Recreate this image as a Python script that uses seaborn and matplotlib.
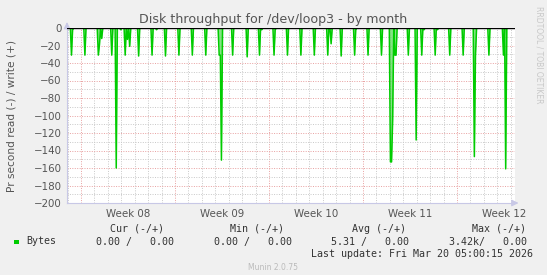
import numpy as np
import pandas as pd
import matplotlib
matplotlib.use("Agg")
import matplotlib.pyplot as plt
import seaborn as sns
from matplotlib.ticker import MultipleLocator, FixedLocator, NullFormatter
from matplotlib.patches import Rectangle

# ---------------- data ----------------
title = "Disk throughput for /dev/loop3 - by month"
ylabel = "Pr second read (-) / write (+)"
week_labels = ["Week 08", "Week 09", "Week 10", "Week 11", "Week 12"]
week_starts = [1.04, 8.04, 15.04, 22.04, 29.04]   # days from left edge (Mondays)
span_days = 33.36
step_days = 1 / 12                                   # 2-hour consolidated points

spike_day = [0.30, 0.45, 1.32, 2.31, 2.45, 2.58, 3.32, 3.65, 4.02, 4.32, 4.47, 4.65,
             5.36, 6.37, 6.70, 7.37, 8.36, 9.36, 10.35, 11.34, 11.43, 11.52, 12.36,
             13.38, 14.37, 14.52, 15.38, 15.52, 16.38, 17.39, 18.39, 19.40, 19.68,
             20.40, 21.41, 21.52, 22.41, 23.42, 24.09, 24.17, 24.26, 24.42, 24.50,
             25.39, 25.96, 26.43, 26.55, 27.45, 27.55, 28.47, 29.46, 30.31, 30.45,
             31.44, 32.46, 32.66]
spike_val = [-31, -2, -31, -31, -19, -12, -31, -160, -2, -31, -13, -21,
             -32, -31, -2, -32, -31, -31, -31, -31, -31, -151, -31,
             -33, -31, -2, -31, -2, -31, -31, -31, -31, -18,
             -32, -31, -2, -31, -31, -153, -153, -105, -31, -31,
             -31, -128, -31, -2, -31, -2, -31, -31, -147, -31,
             -31, -31, -161]

legend_headers = ["Cur (-/+)", "Min (-/+)", "Avg (-/+)", "Max (-/+)"]
legend_values = ["0.00 /   0.00", "0.00 /   0.00", "5.31 /   0.00", "3.42k/   0.00"]
series_name = "Bytes"
last_update = "Last update: Fri Mar 20 05:00:15 2026"
footer = "Munin 2.0.75"
watermark = "RRDTOOL / TOBI OETIKER"

# build consolidated series
n = int(np.ceil(span_days / step_days)) + 1
days = np.arange(n) * step_days
read = np.zeros(n)
for d, v in zip(spike_day, spike_val):
    read[int(round(d / step_days))] = v
write = np.zeros(n)
df = pd.DataFrame({"day": days, "read": read, "write": write})

# ---------------- style ----------------
sns.set_theme(style="white")
plt.rcParams["font.family"] = ["DejaVu Sans"]
BG = "#f0f0f0"
TXT = "#555555"
GREEN = "#00cc00"
AXC = "#c8c8e6"

fig = plt.figure(figsize=(5.47, 2.75), dpi=100, facecolor=BG)
W, H = 547, 275
ax = fig.add_axes([67 / W, 1 - 203 / H, (515 - 67) / W, (203 - 28) / H])
ax.set_facecolor("white")

# grid
ax.set_xlim(0, span_days)
ax.set_ylim(-200, 0)
ax.yaxis.set_major_locator(MultipleLocator(20))
ax.yaxis.set_minor_locator(MultipleLocator(10))
ax.xaxis.set_major_locator(FixedLocator(week_starts))
daily = [week_starts[0] - 1 + k for k in range(int(span_days) + 2)]
ax.xaxis.set_minor_locator(FixedLocator([d for d in daily if 0 < d < span_days]))
ax.xaxis.set_major_formatter(NullFormatter())
dot = (0, (1, 1.5))
ax.grid(which="major", axis="both", color="#e8a0a0", linestyle=dot, linewidth=0.7)
ax.grid(which="minor", axis="both", color="#c8c8c8", linestyle=dot, linewidth=0.7)
ax.set_axisbelow(True)

# data
ax.fill_between(df["day"], df["read"], 0, color="#66dd66", alpha=0.8, linewidth=0, zorder=2)
sns.lineplot(data=df, x="day", y="read", color=GREEN, linewidth=1.1, ax=ax, zorder=3)
sns.lineplot(data=df, x="day", y="write", color="black", linewidth=1.0, ax=ax, zorder=4)

ax.set_xlabel("")
ax.set_ylabel(ylabel, fontsize=7.6, color=TXT, labelpad=12)
for s in ["top", "right"]:
    ax.spines[s].set_visible(False)
for s in ["left", "bottom"]:
    ax.spines[s].set_color(AXC)
    ax.spines[s].set_linewidth(0.8)

ax.tick_params(axis="y", which="major", labelsize=7.4, labelcolor=TXT, length=2,
               color="#e8a0a0", direction="inout", pad=3)
ax.tick_params(axis="y", which="minor", length=2, color="#c8c8c8", direction="inout")
ax.tick_params(axis="x", which="major", length=3, color="#e08080", direction="inout")
ax.tick_params(axis="x", which="minor", length=2, color="#c0c0c0", direction="inout")

sec = ax.secondary_xaxis("bottom")
sec.set_xticks([w + 3.5 for w in week_starts], week_labels)
sec.tick_params(length=0, labelsize=7.4, labelcolor=TXT, pad=4)
sec.spines["bottom"].set_visible(False)

# axis arrows
ax.annotate("", xy=(0, 1.05), xytext=(0, 0.985), xycoords="axes fraction",
            arrowprops=dict(arrowstyle="-|>,head_length=0.5,head_width=0.25",
                            color=AXC, lw=0.8, mutation_scale=8),
            annotation_clip=False)
ax.annotate("", xy=(1.014, 0), xytext=(0.99, 0), xycoords="axes fraction",
            arrowprops=dict(arrowstyle="-|>,head_length=0.5,head_width=0.25",
                            color=AXC, lw=0.8, mutation_scale=8),
            annotation_clip=False)

# title & texts
fig.text(273 / W, 1 - 19 / H, title, ha="center", va="center", fontsize=9.1, color=TXT)
fig.text(539 / W, 1 - 6 / H, watermark, ha="center", va="top", rotation=270,
         fontsize=5.5, color="#c8c8c8")

mono = "DejaVu Sans Mono"
hdr_right = [164, 284.5, 405.5, 526]
val_right = [173.5, 291.5, 409, 527]
for t, xr in zip(legend_headers, hdr_right):
    fig.text(xr / W, 1 - 228.6 / H, t, ha="right", va="center", family=mono,
             fontsize=7.2, color="#333333")
for t, xr in zip(legend_values, val_right):
    fig.text(xr / W, 1 - 241.5 / H, t, ha="right", va="center", family=mono,
             fontsize=7.2, color="#333333")
fig.patches.append(Rectangle((14 / W, 1 - 244 / H), 4.5 / W, 4.5 / H,
                             transform=fig.transFigure, facecolor=GREEN,
                             edgecolor="none"))
fig.text(26 / W, 1 - 241.5 / H, series_name, ha="left", va="center", family=mono,
         fontsize=7.2, color="#333333")
fig.text(533 / W, 1 - 254 / H, last_update, ha="right", va="center", family=mono,
         fontsize=7.2, color="#333333")
fig.text(273 / W, 1 - 267 / H, footer, ha="center", va="center", fontsize=5.5,
         color="#bbbbbb")

fig.savefig("out.png", dpi=100, facecolor=BG)
